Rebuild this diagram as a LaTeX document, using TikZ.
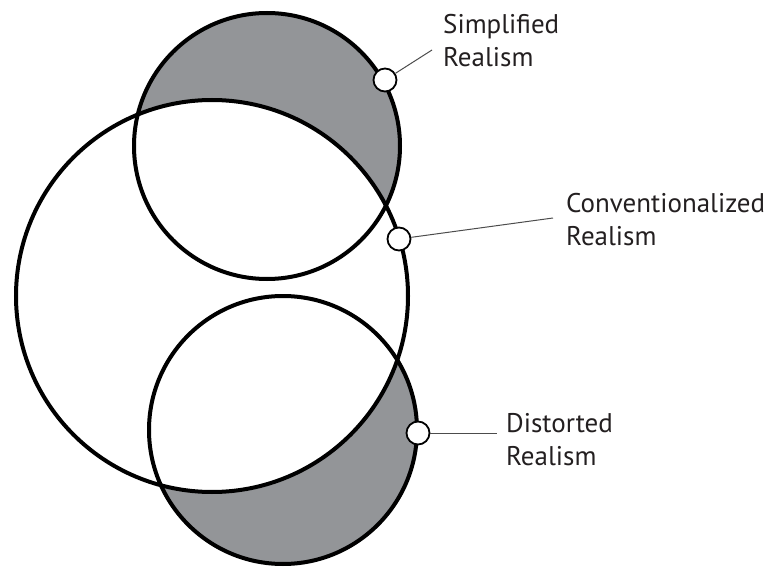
\documentclass[tikz,border=0pt]{standalone}
\usepackage{fontspec}
\setmainfont{PT Sans}
\definecolor{fillgray}{RGB}{147,149,152}
\definecolor{txt}{RGB}{35,31,32}
\begin{document}
\begin{tikzpicture}[x=1pt,y=-1pt,
  ring/.style={line width=4pt,draw=black},
  marker/.style={circle,draw=black,fill=white,line width=1.8pt,minimum size=23pt,inner sep=0pt},
  leader/.style={draw=black!70,line width=1pt},
  label/.style={anchor=north west,inner sep=0pt,align=left,text=txt,font=\fontsize{27}{33}\selectfont}]
\useasboundingbox (0,0) rectangle (772,567);
% fills
\fill[fillgray] (267,146) circle (133);
\fill[fillgray] (283,430) circle (134);
\fill[white] (212,296) circle (196);
% outlines
\draw[ring] (267,146) circle (133);
\draw[ring] (283,430) circle (134);
\draw[ring] (212,296) circle (196);
% markers
\node[marker] (ms) at (385,80) {};
\node[marker] (mc) at (399,239) {};
\node[marker] (md) at (418,433) {};
% leader ends
\coordinate (es) at (432,50);
\coordinate (ec) at (553,218);
\coordinate (ed) at (497,433);
\draw[leader] (ms) -- (es);
\draw[leader] (mc) -- (ec);
\draw[leader] (md) -- (ed);
% labels
\node[label] (ls) at (443,14) {Simplified\\Realism};
\node[label] (lc) at (566,193) {Conventionalized\\Realism};
\node[label] (ld) at (506,413) {Distorted\\Realism};
\end{tikzpicture}
\end{document}
